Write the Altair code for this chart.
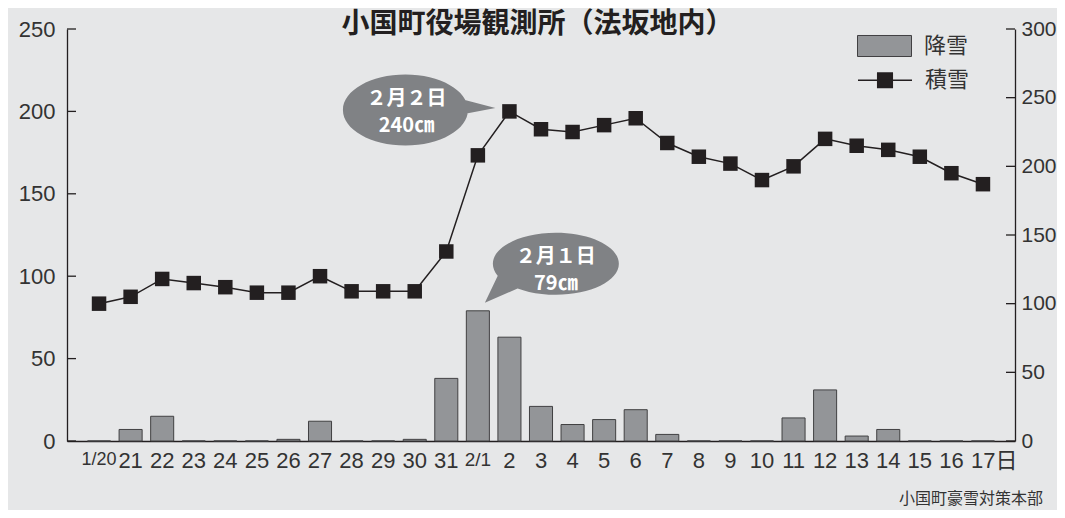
import altair as alt
import pandas as pd

# ---- data ----
dates = ["1/20", "21", "22", "23", "24", "25", "26", "27", "28", "29", "30", "31",
         "2/1", "2", "3", "4", "5", "6", "7", "8", "9", "10", "11", "12", "13", "14",
         "15", "16", "17日"]
snowfall = [0, 7, 15, 0, 0, 0, 1, 12, 0, 0, 1, 38, 79, 63, 21, 10, 13, 19, 4, 0, 0, 0,
            14, 31, 3, 7, 0, 0, 0]
depth = [100, 105, 118, 115, 112, 108, 108, 120, 109, 109, 109, 138, 208, 240, 227, 225,
         230, 235, 217, 207, 202, 190, 200, 220, 215, 212, 207, 195, 187]
left_ticks = [0, 50, 100, 150, 200, 250]
right_ticks = [0, 50, 100, 150, 200, 250, 300]
series_names = ["降雪", "積雪"]
title_text = "小国町役場観測所（法坂地内）"
source_text = "小国町豪雪対策本部"
callout_bar = {"date": "2/1", "v": 79, "t": "２月１日\n79㎝"}
callout_line = {"date": "2", "v": 240, "t": "２月２日\n240㎝"}

BG = "#e6e7e8"
BAR = "#939598"
DARK = "#231f20"
BUBBLE = "#808285"
TXT = "#333333"
FONT = "Liberation Sans, Noto Sans CJK JP"
JFONT = "Noto Sans CJK JP"

df = pd.DataFrame({"date": dates, "snowfall": snowfall, "depth": depth,
                   "s1": series_names[0], "s2": series_names[1]})


def bubble(cx, cy, rx, ry, tri):
    k = 0.5523
    p = (f"M{cx+rx},{cy}"
         f"C{cx+rx},{cy+k*ry} {cx+k*rx},{cy+ry} {cx},{cy+ry}"
         f"C{cx-k*rx},{cy+ry} {cx-rx},{cy+k*ry} {cx-rx},{cy}"
         f"C{cx-rx},{cy-k*ry} {cx-k*rx},{cy-ry} {cx},{cy-ry}"
         f"C{cx+k*rx},{cy-ry} {cx+rx},{cy-k*ry} {cx+rx},{cy}Z")
    (ax, ay), (bx, by), (tx, ty) = tri
    p += f"M{ax},{ay}L{bx},{by}L{tx},{ty}Z"
    return p


shape_line = bubble(-104, -1.5, 62.5, 35.5, [(-56, -14.5), (-14, -3.3), (-56, 4.7)])
shape_bar = bubble(78, -47, 63, 31, [(23, -41.6), (47, -25.6), (7, -8)])

last_test = "datum.value == '17日'"
x = alt.X("date:N", sort=dates,
          scale=alt.Scale(paddingInner=0.27, paddingOuter=0.65),
          axis=alt.Axis(title=None, ticks=False, labelAngle=0, labelPadding=9,
                        labelColor=TXT, labelFont=FONT,
                        labelFontSize={"condition": [
                            {"test": "datum.value == '1/20'", "value": 18},
                            {"test": "datum.value == '2/1'", "value": 19}],
                            "value": 22},
                        labelAlign={"condition": {"test": last_test, "value": "left"},
                                    "value": "center"},
                        labelOffset={"condition": {"test": last_test, "value": -12},
                                     "value": 0},
                        domainColor=DARK, domainWidth=1.3))

yl_scale = alt.Scale(domain=[0, 250], nice=False)
yr_scale = alt.Scale(domain=[0, 300], nice=False)
yl_axis = alt.Axis(title=None, values=left_ticks, ticks=False, grid=False,
                   labelFont=FONT, labelFontSize=22, labelColor=TXT,
                   labelPadding=12, domainColor=DARK, domainWidth=1.3)
yr_axis = alt.Axis(title=None, orient="right", values=right_ticks, ticks=False,
                   grid=False, labelFont=FONT, labelFontSize=21, labelColor=TXT,
                   labelPadding=6, domainColor=DARK, domainWidth=1.3)


def yl(field):
    return alt.Y(field, scale=yl_scale, axis=yl_axis)


def yr(field):
    return alt.Y(field, scale=yr_scale, axis=yr_axis)


bars = alt.Chart(df).mark_bar(stroke="#414042", strokeWidth=1).encode(
    x=x,
    y=yl("snowfall:Q"),
    fill=alt.Fill("s1:N", scale=alt.Scale(domain=[series_names[0]], range=[BAR]),
                  legend=alt.Legend(title=None, orient="none", legendX=790, legendY=-10.5,
                                    symbolType="M-1,-0.389H1V0.389H-1Z", symbolSize=2916,
                                    symbolStrokeColor="#414042", symbolStrokeWidth=1,
                                    labelFont=JFONT, labelFontSize=22, labelColor=TXT,
                                    labelOffset=12, padding=0)),
)

lticks = alt.Chart(pd.DataFrame({"v": left_ticks})).mark_rule(color=DARK, strokeWidth=1.3).encode(
    y=yl("v:Q"), x=alt.value(0), x2=alt.value(9))

bar_bubble_df = pd.DataFrame([callout_bar])
bar_bubble = alt.Chart(bar_bubble_df).mark_point(
    shape=shape_bar, size=4, filled=True, fill=BUBBLE, opacity=1, strokeWidth=0).encode(
    x=x, y=yl("v:Q"))
bar_bubble_text = alt.Chart(bar_bubble_df).mark_text(
    dx=78, dy=-53.5, lineBreak="\n", lineHeight=27, fontSize=20, fontWeight="bold",
    color="white", font=JFONT, align="center", baseline="middle").encode(
    x=x, y=yl("v:Q"), text="t:N")

title = alt.Chart(pd.DataFrame({"t": [title_text]})).mark_text(
    fontSize=28, fontWeight="bold", font=JFONT, color=DARK, align="center",
    baseline="middle").encode(x=alt.value(470.5), y=alt.value(-4), text="t:N")
footer = alt.Chart(pd.DataFrame({"t": [source_text]})).mark_text(
    fontSize=16, font=JFONT, color=TXT, align="right",
    baseline="middle").encode(x=alt.value(976), y=alt.value(470), text="t:N")

line = alt.Chart(df).mark_line(strokeWidth=1.5).encode(
    x=x,
    y=yr("depth:Q"),
    stroke=alt.Stroke("s2:N", scale=alt.Scale(domain=[series_names[1]], range=[DARK]),
                      legend=alt.Legend(title=None, orient="none", legendX=790, legendY=23.3,
                                        symbolType="M-1,0H1M-0.27,-0.27H0.27V0.27H-0.27Z",
                                        symbolSize=2916, symbolFillColor=DARK,
                                        symbolStrokeWidth=1.5,
                                        labelFont=JFONT, labelFontSize=22, labelColor=TXT,
                                        labelOffset=12, padding=0)),
)
points = alt.Chart(df).mark_point(shape="square", filled=True, size=210, color=DARK,
                                  opacity=1).encode(
    x=x, y=yr("depth:Q"))

rticks = alt.Chart(pd.DataFrame({"v": right_ticks})).mark_rule(color=DARK, strokeWidth=1.3).encode(
    y=yr("v:Q"), x=alt.value(939), x2=alt.value(948))

line_bubble_df = pd.DataFrame([callout_line])
line_bubble = alt.Chart(line_bubble_df).mark_point(
    shape=shape_line, size=4, filled=True, fill=BUBBLE, opacity=1, strokeWidth=0).encode(
    x=x, y=yr("v:Q"))
line_bubble_text = alt.Chart(line_bubble_df).mark_text(
    dx=-103, dy=-12.5, lineBreak="\n", lineHeight=27, fontSize=20, fontWeight="bold",
    color="white", font=JFONT, align="center", baseline="middle").encode(
    x=x, y=yr("v:Q"), text="t:N")

left = alt.layer(bars, lticks, bar_bubble, bar_bubble_text, title, footer)
right = alt.layer(line, points, rticks, line_bubble, line_bubble_text)

chart = alt.layer(left, right).resolve_scale(y="independent").properties(
    width=948, height=412,
    autosize=alt.AutoSizeParams(type="none"),
    padding={"left": 59, "top": 21, "right": 42, "bottom": 69},
    background=BG,
).configure_view(stroke=None)

chart.save("out.html", embed_options={"renderer": "svg", "actions": False})
